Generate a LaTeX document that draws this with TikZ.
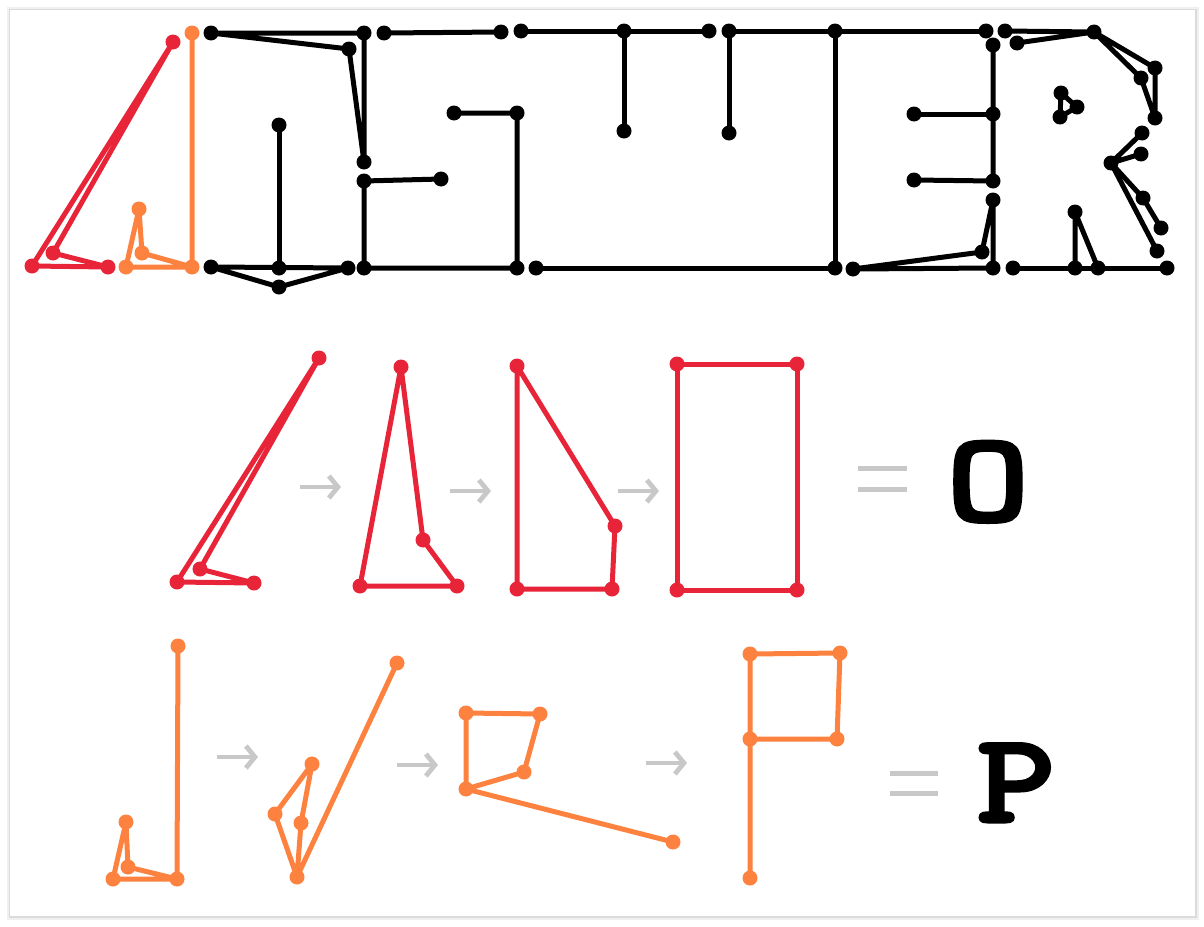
\documentclass[tikz,border=0pt]{standalone}
\usepackage{fontspec}
\newfontfamily\answerfont{Latin Modern Mono}[FakeBold=4]
\usetikzlibrary{arrows.meta}
\definecolor{strokered}{RGB}{232,36,56}
\definecolor{strokeorange}{RGB}{253,130,64}
\definecolor{arrowgray}{RGB}{200,200,200}
\tikzset{
	inkline/.style={line width=5pt, line join=round, line cap=round},
	blk/.style={inkline, black},
	rd/.style={inkline, strokered},
	og/.style={inkline, strokeorange},
	flowarrow/.style={line width=4.8pt, arrowgray, -{Straight Barb[length=9pt,width=22pt]}},
	eqbar/.style={line width=5pt, arrowgray},
	answer/.style={inner sep=0pt, anchor=base, font=\answerfont\fontsize{125}{125}\selectfont}
}
\def\dotat[#1](#2){\foreach \p in {#2} \fill[#1] (\p) circle[radius=7.5pt];}
\def\fourgon[#1](#2)(#3)(#4)(#5){\draw[#1] (#2) -- (#3) -- (#4) -- (#5) -- cycle; \dotat[#1](#2,#3,#4,#5)}
\def\fivegon[#1](#2)(#3)(#4)(#5)(#6){\draw[#1] (#2) -- (#3) -- (#4) -- (#5) -- (#6) -- (#3); \dotat[#1](#2,#3,#4,#5,#6)}

\begin{document}
\begin{tikzpicture}[x=1pt, y=-1pt]
		%%%%% FRAME %%%%%
		\useasboundingbox (0,0) rectangle (1204,926);
		\fill[black!6] (7,7) rectangle (1199,920);
		\fill[black!14] (9,9) rectangle (1197,918);
		\fill[white] (10,10) rectangle (1195,916);
		
		%%%%% TOP ROW %%%%%
		\coordinate (tra) at (173,42);
		\coordinate (trb) at (32,266);
		\coordinate (trc) at (108,267);
		\coordinate (trd) at (53,253);
		\fourgon[rd](tra)(trb)(trc)(trd)
		
		\coordinate (toa) at (192,33);
		\coordinate (tob) at (192,267);
		\coordinate (toc) at (126,267);
		\coordinate (tod) at (139,209);
		\coordinate (toe) at (142,253);
		\fivegon[og](toa)(tob)(toc)(tod)(toe)
		
		\coordinate (k1) at (211,33);
		\coordinate (k2) at (364,33);
		\coordinate (k3) at (349,49);
		\coordinate (k4) at (364,162);
		\coordinate (k5) at (364,181);
		\coordinate (k6) at (441,179);
		\coordinate (k7) at (364,268);
		\coordinate (k8) at (211,267);
		\coordinate (k9) at (279,268);
		\coordinate (k10) at (348,268);
		\coordinate (k11) at (279,287);
		\coordinate (k12) at (279,125);
		\coordinate (k13) at (384,33);
		\coordinate (k14) at (501,32);
		\coordinate (k15) at (454,113);
		\coordinate (k16) at (517,113);
		\coordinate (k17) at (517,268);
		\coordinate (k18) at (521,31);
		\coordinate (k19) at (624,31);
		\coordinate (k20) at (709,31);
		\coordinate (k21) at (624,131);
		\coordinate (k22) at (729,31);
		\coordinate (k23) at (835,31);
		\coordinate (k24) at (986,31);
		\coordinate (k25) at (729,133);
		\coordinate (k26) at (835,268);
		\coordinate (k27) at (536,268);
		\coordinate (k28) at (853,269);
		\coordinate (k29) at (982,252);
		\coordinate (k30) at (993,200);
		\coordinate (k31) at (993,268);
		\coordinate (k32) at (993,45);
		\coordinate (k33) at (993,114);
		\coordinate (k34) at (993,181);
		\coordinate (k35) at (914,114);
		\coordinate (k36) at (914,180);
		\coordinate (k37) at (1005,31);
		\coordinate (k38) at (1094,32);
		\coordinate (k39) at (1017,43);
		\coordinate (k40) at (1155,68);
		\coordinate (k41) at (1141,78);
		\coordinate (k42) at (1155,118);
		\coordinate (k43) at (1061,93);
		\coordinate (k44) at (1077,107);
		\coordinate (k45) at (1060,117);
		\coordinate (k46) at (1142,133);
		\coordinate (k47) at (1111,163);
		\coordinate (k48) at (1141,154);
		\coordinate (k49) at (1143,198);
		\coordinate (k50) at (1161,228);
		\coordinate (k51) at (1157,251);
		\coordinate (k52) at (1013,268);
		\coordinate (k53) at (1075,268);
		\coordinate (k54) at (1098,268);
		\coordinate (k55) at (1167,268);
		\coordinate (k56) at (1075,212);
		
		\draw[blk] (k1) -- (k2) -- (k4) -- (k3) -- cycle;
		\draw[blk] (k6) -- (k5) -- (k7) -- (k17) -- (k16) -- (k15);
		\draw[blk] (k8) -- (k10) -- (k11) -- cycle;
		\draw[blk] (k9) -- (k12);
		\draw[blk] (k13) -- (k14);
		\draw[blk] (k18) -- (k20);
		\draw[blk] (k19) -- (k21);
		\draw[blk] (k25) -- (k22) -- (k24);
		\draw[blk] (k23) -- (k26) -- (k27);
		\draw[blk] (k28) -- (k31) -- (k30) -- (k29) -- cycle;
		\draw[blk] (k32) -- (k34) -- (k36);
		\draw[blk] (k33) -- (k35);
		\draw[blk] (k37) -- (k38) -- (k39);
		\draw[blk] (k38) -- (k40) -- (k42) -- (k41) -- cycle;
		\draw[blk] (k43) -- (k44) -- (k45) -- cycle;
		\draw[blk] (k46) -- (k47) -- (k48);
		\draw[blk] (k47) -- (k49) -- (k50);
		\draw[blk] (k47) -- (k51);
		\draw[blk] (k52) -- (k55);
		\draw[blk] (k53) -- (k56) -- (k54);
		\foreach \i in {1,...,56} \fill (k\i) circle[radius=7.5pt];
		
		%%%%% O ROW %%%%%
		\coordinate (o1a) at (319,358);
		\coordinate (o1b) at (177,582);
		\coordinate (o1c) at (254,583);
		\coordinate (o1d) at (200,569);
		\fourgon[rd](o1a)(o1b)(o1c)(o1d)
		
		\coordinate (o2a) at (401,367);
		\coordinate (o2b) at (360,586);
		\coordinate (o2c) at (457,586);
		\coordinate (o2d) at (423,540);
		\fourgon[rd](o2a)(o2b)(o2c)(o2d)
		
		\coordinate (o3a) at (517,366);
		\coordinate (o3b) at (517,589);
		\coordinate (o3c) at (612,589);
		\coordinate (o3d) at (615,526);
		\fourgon[rd](o3a)(o3b)(o3c)(o3d)
		
		\coordinate (o4a) at (677,364);
		\coordinate (o4b) at (677,590);
		\coordinate (o4c) at (797,590);
		\coordinate (o4d) at (797,364);
		\fourgon[rd](o4a)(o4b)(o4c)(o4d)
		
		\coordinate (oa1s) at (300,487);
		\coordinate (oa1e) at (341,487);
		\coordinate (oa2s) at (450,491);
		\coordinate (oa2e) at (491,491);
		\coordinate (oa3s) at (618,491);
		\coordinate (oa3e) at (659,491);
		\draw[flowarrow] (oa1s) -- (oa1e);
		\draw[flowarrow] (oa2s) -- (oa2e);
		\draw[flowarrow] (oa3s) -- (oa3e);
		
		\coordinate (oeq1) at (858,468);
		\coordinate (oeq2) at (907,468);
		\coordinate (oeq3) at (858,489);
		\coordinate (oeq4) at (907,489);
		\draw[eqbar] (oeq1) -- (oeq2);
		\draw[eqbar] (oeq3) -- (oeq4);
		\node[answer, xscale=1.25, transform shape] (oglyph) at (988,520) {O};
		
		%%%%% P ROW %%%%%
		\coordinate (p1a) at (178,646);
		\coordinate (p1b) at (177,879);
		\coordinate (p1c) at (113,879);
		\coordinate (p1d) at (126,822);
		\coordinate (p1e) at (128,867);
		\fivegon[og](p1a)(p1b)(p1c)(p1d)(p1e)
		
		\coordinate (p2a) at (397,663);
		\coordinate (p2b) at (297,877);
		\coordinate (p2c) at (275,814);
		\coordinate (p2d) at (312,764);
		\coordinate (p2e) at (301,823);
		\fivegon[og](p2a)(p2b)(p2c)(p2d)(p2e)
		
		\coordinate (p3a) at (673,842);
		\coordinate (p3b) at (466,789);
		\coordinate (p3c) at (524,772);
		\coordinate (p3d) at (540,714);
		\coordinate (p3e) at (466,713);
		\fivegon[og](p3a)(p3b)(p3c)(p3d)(p3e)
		
		\coordinate (p4a) at (750,878);
		\coordinate (p4b) at (750,739);
		\coordinate (p4c) at (837,739);
		\coordinate (p4d) at (840,653);
		\coordinate (p4e) at (750,654);
		\fivegon[og](p4a)(p4b)(p4c)(p4d)(p4e)
		
		\coordinate (pa1s) at (217,757);
		\coordinate (pa1e) at (258,757);
		\coordinate (pa2s) at (397,765);
		\coordinate (pa2e) at (438,765);
		\coordinate (pa3s) at (646,763);
		\coordinate (pa3e) at (687,763);
		\draw[flowarrow] (pa1s) -- (pa1e);
		\draw[flowarrow] (pa2s) -- (pa2e);
		\draw[flowarrow] (pa3s) -- (pa3e);
		
		\coordinate (peq1) at (890,773);
		\coordinate (peq2) at (938,773);
		\coordinate (peq3) at (890,793);
		\coordinate (peq4) at (938,793);
		\draw[eqbar] (peq1) -- (peq2);
		\draw[eqbar] (peq3) -- (peq4);
		\node[answer, xscale=1.2, transform shape] (pglyph) at (1016,821) {P};
		%%%%% END %%%%%
\end{tikzpicture}
\end{document}
